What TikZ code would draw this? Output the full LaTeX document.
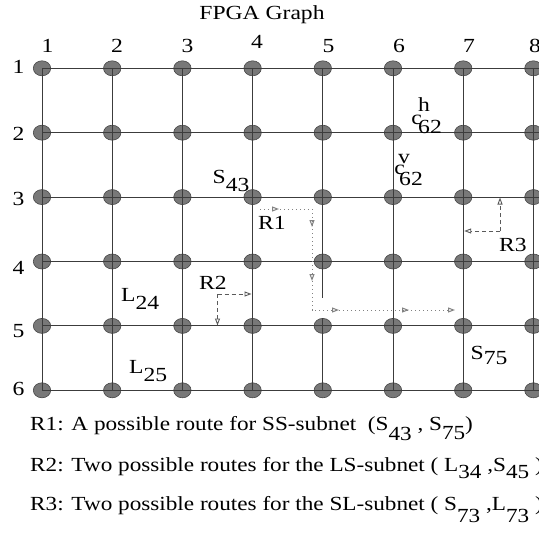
\documentclass[tikz,border=0pt]{standalone}
\usepackage{graphicx}
\usepackage{fontspec}
\setmainfont{Liberation Serif}
\usetikzlibrary{arrows.meta,decorations.markings,shapes.geometric}
\definecolor{dotfill}{RGB}{120,120,120}
\definecolor{dotedge}{RGB}{70,70,70}
\definecolor{gridc}{RGB}{60,60,60}
\definecolor{routea}{RGB}{130,130,130}
\definecolor{routeb}{RGB}{90,90,90}
\newcommand\hs[1]{\scalebox{1.18}[1]{#1}}
\newcommand\hl[1]{\scalebox{1.16}[1]{#1}}
\newcommand\lowr[2]{\raisebox{-#1bp}{#2}}
\newcommand\tipmark{\arrow{Triangle[open, length=7bp, width=5bp]}}
\tikzset{
  lab/.style={font=\fontsize{20bp}{24bp}\selectfont, inner sep=0pt, text=black},
  dot/.style={ellipse, minimum width=17.4bp, minimum height=15bp, inner sep=0pt,
              fill=dotfill, draw=dotedge, line width=0.6bp},
  gridline/.style={draw=gridc, line width=1bp},
  rone/.style={draw=routea, line width=1bp, dash pattern=on 1.2bp off 2.8bp,
               -{Triangle[open, length=7bp, width=5bp]}},
  rtwo/.style={draw=routeb, line width=0.9bp, dash pattern=on 4bp off 3bp,
               -{Triangle[open, length=7bp, width=5bp]}},
}
\begin{document}
\begin{tikzpicture}[x=1bp, y=-1bp]
\useasboundingbox (0,0) rectangle (539,534);
\fill[white] (0,0) rectangle (539,534);

% dots
\foreach \i/\x in {1/42,2/112.2,3/182.4,4/252.6,5/322.8,6/393,7/463.2,8/533.4}{
  \foreach \j/\y in {1/68.3,2/132.7,3/197.1,4/261.5,5/325.9,6/390.3}{
    \node[dot] (d\i\j) at (\x,\y) {};
  }
}
% right-edge ends of the rows
\foreach \j/\y in {1/68.3,2/132.7,3/197.1,4/261.5,5/325.9,6/390.3}{
  \coordinate (e\j) at (539,\y);
}
% grid lines
\foreach \j in {1,...,6}{
  \draw[gridline] (d1\j.center) -- (e\j);
}
\foreach \i in {1,...,8}{
  \draw[gridline] (d\i1.center) -- (d\i6.center);
}
% gap in column 5 between rows 4 and 5
\coordinate (g1) at (322.8,298);
\coordinate (g2) at (322.8,317.5);
\draw[white, line width=2bp] (g1) -- (g2);

% title and axis labels
\node[lab] (title) at (262,15) {\hs{FPGA Graph}};
\node[lab] (c1) at (47.5,46) {\hs{1}};
\node[lab] (c2) at (117,46) {\hs{2}};
\node[lab] (c3) at (187.5,46) {\hs{3}};
\node[lab] (c4) at (257,42) {\hs{4}};
\node[lab] (c5) at (328.5,46) {\hs{5}};
\node[lab] (c6) at (399,46) {\hs{6}};
\node[lab] (c7) at (469,46) {\hs{7}};
\node[lab] (c8) at (535,46) {\hs{8}};
\node[lab] (r1) at (18.5,67) {\hs{1}};
\node[lab] (r2) at (18.5,134) {\hs{2}};
\node[lab] (r3) at (18.5,199) {\hs{3}};
\node[lab] (r4) at (18.5,268) {\hs{4}};
\node[lab] (r5) at (18.5,331) {\hs{5}};
\node[lab] (r6) at (18.5,389) {\hs{6}};

% cell labels
\node[lab] (ch) at (416.5,120) {\hs{c}};
\node[lab] (chs) at (424,105) {\hs{h}};
\node[lab] (chn) at (430,126.5) {\hs{62}};
\node[lab] (cv) at (399.5,170) {\hs{c}};
\node[lab] (cvs) at (404,159) {\hs{v}};
\node[lab] (cvn) at (411,179) {\hs{62}};
\node[lab, anchor=base west] (s43) at (212.5,183.5) {\hs{S\lowr{8}{43}}};
\node[lab, anchor=base west] (l24) at (121,301.5) {\hs{L\lowr{8}{24}}};
\node[lab, anchor=base west] (l25) at (129,373.5) {\hs{L\lowr{8}{25}}};
\node[lab, anchor=base west] (s75) at (470.5,359.5) {\hs{S\lowr{5}{75}}};
\node[lab] (rl1) at (272,223) {\hs{R1}};
\node[lab] (rl2) at (213,283) {\hs{R2}};
\node[lab] (rl3) at (513,245) {\hs{R3}};

% route R1 (dotted)
\coordinate (a0) at (260,209);
\coordinate (a1) at (312,209);
\coordinate (a2) at (312,310);
\coordinate (a3) at (455,310);
\draw[rone, postaction={decorate},
  decoration={markings,
    mark=at position 19bp with {\tipmark},
    mark=at position 70bp with {\tipmark},
    mark=at position 124bp with {\tipmark},
    mark=at position 180bp with {\tipmark},
    mark=at position 250bp with {\tipmark}}]
  (a0) -- (a1) -- (a2) -- (a3);

% route R2 (dashed)
\coordinate (b0) at (217.5,294);
\coordinate (b1) at (251.5,294);
\coordinate (b2) at (217.5,325.5);
\draw[rtwo] (b0) -- (b1);
\draw[rtwo] (b0) -- (b2);

% route R3 (dashed)
\coordinate (q0) at (500,231);
\coordinate (q1) at (500,197.5);
\coordinate (q2) at (464.2,231);
\draw[rtwo] (q0) -- (q1);
\draw[rtwo] (q0) -- (q2);

% legend
\node[lab, anchor=base west] (t1) at (30,430)
  {\hl{R1: A possible route for SS-subnet~~(S\lowr{10}{43} , S\lowr{9}{75})}};
\node[lab, anchor=base west] (t2) at (30,471)
  {\hl{R2: Two possible routes for the LS-subnet ( L\lowr{7}{34} ,S\lowr{7}{45} )}};
\node[lab, anchor=base west] (t3) at (30,510)
  {\hl{R3: Two possible routes for the SL-subnet ( S\lowr{12}{73} ,L\lowr{12}{73} )}};
\end{tikzpicture}
\end{document}
